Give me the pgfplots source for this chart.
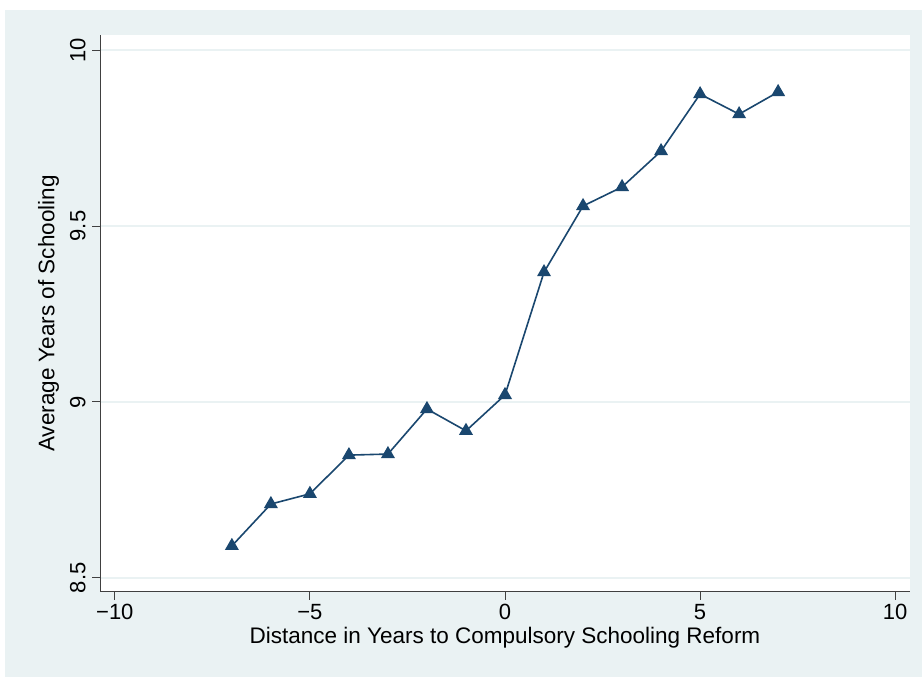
\documentclass[border=0pt]{standalone}
\usepackage{fontspec}
\setmainfont{Liberation Sans}
\usepackage{pgfplots}
\pgfplotsset{compat=1.18}
\definecolor{stbg}{RGB}{234,242,243}
\definecolor{stnavy}{RGB}{26,71,111}
\begin{document}
\begin{tikzpicture}
\path[use as bounding box] (0pt,0pt) rectangle (922pt,677pt);
\fill[stbg] (5pt,0pt) rectangle (922pt,667pt);
\begin{axis}[
  at={(100pt,85pt)}, anchor=south west,
  scale only axis, width=810pt, height=557pt,
  xmin=-10.38, xmax=10.38, ymin=8.46, ymax=10.043,
  axis lines*=left,
  axis background/.style={fill=white},
  axis line style={line width=1pt, black!75},
  tick style={line width=1pt, black!75},
  tick align=outside, major tick length=8pt,
  xtick={-10,-5,0,5,10}, xticklabels={−10,−5,0,5,10},
  ytick={8.5,9,9.5,10}, yticklabels={8.5,9,9.5,10},
  ymajorgrids, grid style={stbg, line width=1.5pt},
  tick label style={font=\fontsize{22}{22}\selectfont},
  yticklabel style={rotate=90, anchor=south},
  yticklabel shift=3pt, xticklabel shift=1pt,
  label style={font=\fontsize{22.5}{22.5}\selectfont},
  xlabel={Distance in Years to Compulsory Schooling Reform},
  ylabel={Average Years of Schooling},
  ylabel style={yshift=4pt},
]
\addplot[stnavy, line width=1.6pt, mark=triangle*, mark size=6.5pt,
  mark options={fill=stnavy, draw=stnavy}] coordinates {
  (-7,8.591) (-6,8.710) (-5,8.739) (-4,8.849) (-3,8.852)
  (-2,8.980) (-1,8.918) (0,9.020) (1,9.369) (2,9.557)
  (3,9.611) (4,9.713) (5,9.875) (6,9.818) (7,9.881)
};
\end{axis}
\end{tikzpicture}
\end{document}
